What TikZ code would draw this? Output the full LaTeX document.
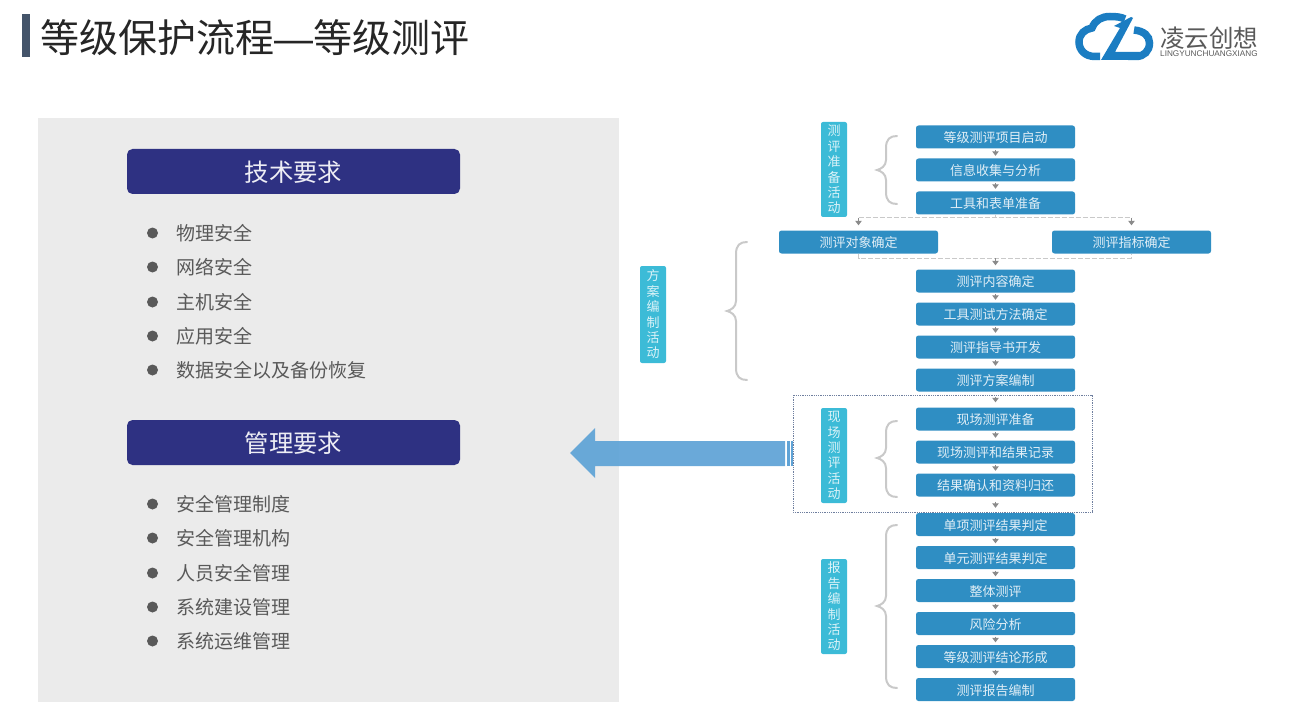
\documentclass[tikz,border=0pt]{standalone}
\usepackage{fontspec}
\setmainfont{Noto Sans CJK SC}
\newfontfamily\latinfont{Liberation Sans}
\usetikzlibrary{arrows.meta}
\definecolor{panelgray}{HTML}{EBEBEB}
\definecolor{navy}{HTML}{2E3182}
\definecolor{stepblue}{HTML}{2F8EC3}
\definecolor{sidecyan}{HTML}{3CBBD7}
\definecolor{bodygray}{HTML}{595959}
\definecolor{bracegray}{HTML}{C9C9C9}
\definecolor{tipgray}{HTML}{8A8A8A}
\definecolor{titlebar}{HTML}{44546A}
\definecolor{logoblue}{HTML}{1B7DC2}
\definecolor{arrowblue}{HTML}{5FA3D6}
\definecolor{framecol}{HTML}{6F7F9F}
\tikzset{
  stepbox/.style={fill=stepblue,rounded corners=2.5pt,minimum width=159pt,minimum height=23pt,inner sep=0pt,text height=11.2pt,text depth=0pt,text=white!85!stepblue,font=\fontsize{13}{15}\selectfont},
  sidebox/.style={fill=sidecyan,rounded corners=2pt,minimum width=26pt,inner sep=0pt,text=white!82!sidecyan,align=center,font=\fontsize{13}{15.4}\selectfont},
  header/.style={fill=navy,rounded corners=5.5pt,minimum width=333pt,minimum height=45pt,inner sep=0pt,text height=20.5pt,text depth=0pt,text=white!92!navy,font=\fontsize{24.4}{30}\selectfont},
  item/.style={anchor=west,inner sep=0pt,text=bodygray,font=\fontsize{19}{24}\selectfont},
  dotmark/.style={fill=bodygray,circle,minimum size=11pt,inner sep=0pt},
  flow/.style={draw=tipgray,line width=1pt,-{Triangle[width=6.5pt,length=4.5pt]},shorten >=2.5pt,shorten <=1.5pt},
  dashlink/.style={draw=bracegray,line width=1pt,dash pattern=on 5pt off 2pt},
  curly/.style={draw=bracegray,line width=2pt,line cap=round},
}
\newcommand{\curlybrace}[4]{% tip x, top y, mid y, bottom y
  \draw[curly] (#1+20,#2) .. controls (#1+13,#2) and (#1+9,#2+3) .. (#1+9,#2+12)
    -- (#1+9,#3-10) .. controls (#1+9,#3-4) and (#1+4,#3-1) .. (#1,#3)
    .. controls (#1+4,#3+1) and (#1+9,#3+4) .. (#1+9,#3+10)
    -- (#1+9,#4-12) .. controls (#1+9,#4-3) and (#1+13,#4) .. (#1+20,#4);}
\begin{document}
\begin{tikzpicture}[x=1pt,y=-1pt]
\useasboundingbox (0,0) rectangle (1298,722);
% title
\fill[titlebar] (22,14) rectangle (30,57);
\node[anchor=west,inner sep=0pt,text=black!85,font=\fontsize{39}{44}\selectfont] (title) at (40.5,38) {等级保护流程{\latinfont —}等级测评};
% logo
\draw[logoblue,line width=7.5pt] (1100,56.5) -- (1095,56.5) .. controls (1085,56.5) and (1079,50) .. (1079,42)
  .. controls (1079,34) and (1085,29) .. (1092,28) .. controls (1095,20) and (1102,16.5) .. (1110,16.5)
  .. controls (1116,16.5) and (1121,17) .. (1125,19);
\draw[logoblue,line width=7.5pt] (1134,30) .. controls (1144,31) and (1149.5,36) .. (1149.5,43)
  .. controls (1149.5,51) and (1144,56.5) .. (1136,56.5) -- (1128,56.5);
\fill[logoblue] (1114,26) -- (1131,17) -- (1133,18) -- (1115,52) -- (1140,52) -- (1135,60) -- (1101,60) -- (1120,28) -- cycle;
\node[anchor=west,inner sep=0pt,text=bodygray,font=\fontsize{24.5}{28}\selectfont] (logotext) at (1160,38) {凌云创想};
\node[anchor=west,inner sep=0pt,text=bodygray,font=\latinfont\fontsize{8.2}{9}\selectfont] (logosub) at (1160,54) {LINGYUNCHUANGXIANG};
% left panel
\fill[panelgray] (38,118) rectangle (619,702);
\node[header] (techhead) at (293.5,171.5) {技术要求};
\node[header] (manhead) at (293.5,442.5) {管理要求};
\foreach \yy/\tt in {233/物理安全,267/网络安全,302/主机安全,336/应用安全,370/数据安全以及备份恢复,504/安全管理制度,538/安全管理机构,573/人员安全管理,607/系统建设管理,641/系统运维管理}{
  \node[dotmark] (dot\yy) at (152.5,\yy) {};
  \node[item] (txt\yy) at (176,\yy+.2) {\tt};
}
% dotted frame
\draw[draw=framecol,line width=.8pt,densely dotted] (793,395) rectangle (1092,512);
% big arrow
\fill[arrowblue,fill opacity=.93] (570,453) -- (595,428) -- (595,441) -- (785,441) -- (785,466) -- (595,466) -- (595,478) -- cycle;
\fill[arrowblue] (787,441) rectangle (790,466);
\fill[arrowblue] (791,441) rectangle (793,466);
% step boxes
\node[stepbox] (s1) at (995.5,137) {等级测评项目启动};
\node[stepbox] (s2) at (995.5,170) {信息收集与分析};
\node[stepbox] (s3) at (995.5,203) {工具和表单准备};
\node[stepbox] (obj) at (858.5,242) {测评对象确定};
\node[stepbox] (ind) at (1131.5,242) {测评指标确定};
\node[stepbox] (s4) at (995.5,281) {测评内容确定};
\node[stepbox] (s5) at (995.5,314) {工具测试方法确定};
\node[stepbox] (s6) at (995.5,347) {测评指导书开发};
\node[stepbox] (s7) at (995.5,380) {测评方案编制};
\node[stepbox] (s8) at (995.5,419) {现场测评准备};
\node[stepbox] (s9) at (995.5,452) {现场测评和结果记录};
\node[stepbox] (s10) at (995.5,485) {结果确认和资料归还};
\node[stepbox] (s11) at (995.5,524.5) {单项测评结果判定};
\node[stepbox] (s12) at (995.5,557.5) {单元测评结果判定};
\node[stepbox] (s13) at (995.5,590.5) {整体测评};
\node[stepbox] (s14) at (995.5,623.5) {风险分析};
\node[stepbox] (s15) at (995.5,656.5) {等级测评结论形成};
\node[stepbox] (s16) at (995.5,689.5) {测评报告编制};
% side boxes
\node[sidebox,minimum height=95pt] (a1) at (834,169.5) {测\\评\\准\\备\\活\\动};
\node[sidebox,minimum height=97pt] (a2) at (653,314.5) {方\\案\\编\\制\\活\\动};
\node[sidebox,minimum height=95pt] (a3) at (834,455.5) {现\\场\\测\\评\\活\\动};
\node[sidebox,minimum height=95pt] (a4) at (834,606.5) {报\\告\\编\\制\\活\\动};
% braces
\curlybrace{877}{136}{170}{204}
\curlybrace{727}{242}{311}{380}
\curlybrace{877}{421}{458}{497}
\curlybrace{877}{525}{606}{688}
% connectors
\foreach \aa/\bb in {s1/s2,s2/s3,s4/s5,s5/s6,s6/s7,s8/s9,s9/s10,s11/s12,s12/s13,s13/s14,s14/s15,s15/s16}{
  \draw[flow] (\aa.south) -- (\bb.north);
}
\draw[flow,shorten >=5pt,shorten <=5pt] (s7.south) -- (s8.north);
\draw[flow,shorten >=5pt,shorten <=5pt] (s10.south) -- (s11.north);
\coordinate (split) at (995.5,218);
\coordinate (joinc) at (995.5,258);
\draw[dashlink] (s3.south) -- (split);
\draw[dashlink] (obj.north |- split) -- (ind.north |- split);
\draw[dashlink] (obj.south) -- (obj.south |- joinc) -- (ind.south |- joinc) -- (ind.south);
\draw[flow,shorten >=5pt,shorten <=0pt] (obj.north |- split) -- (obj.north);
\draw[flow,shorten >=5pt,shorten <=0pt] (ind.north |- split) -- (ind.north);
\draw[flow,shorten >=4pt,shorten <=0pt] (joinc) -- (s4.north);
\end{tikzpicture}
\end{document}
